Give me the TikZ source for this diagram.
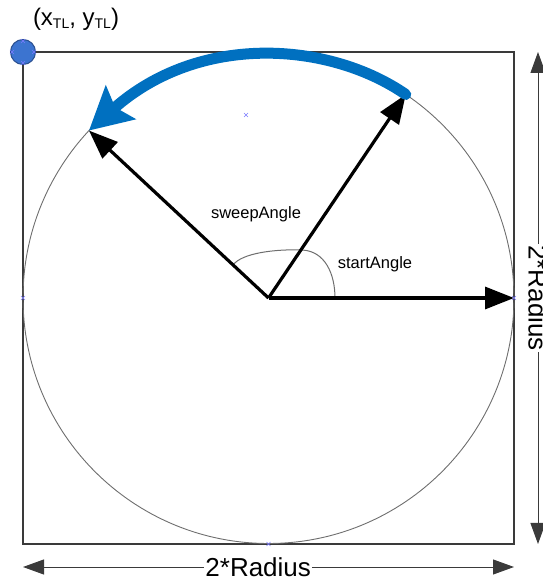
\documentclass[tikz,border=0pt]{standalone}
\usepackage{fontspec}
\setmainfont{Liberation Sans}
\usetikzlibrary{arrows.meta,positioning}
\definecolor{arcblue}{HTML}{0070C0}
\definecolor{dotblue}{HTML}{3C74D0}
\definecolor{dotedge}{HTML}{2A4F8F}
\definecolor{framegray}{HTML}{3A3A3A}
\definecolor{ringgray}{HTML}{6E6E6E}
\definecolor{markblue}{HTML}{7B7BFF}
\newcommand{\tlsub}[1]{\raisebox{-3pt}{\fontsize{14}{14}\selectfont #1}}
\tikzset{
  boxline/.style={draw=framegray,line width=1.2pt,inner sep=0pt,outer sep=0pt},
  ringline/.style={circle,draw=ringgray,line width=0.9pt,inner sep=0pt,outer sep=0pt},
  radiusarrow/.style={-{Triangle[length=29pt,width=22pt]},line width=3.2pt,draw=black},
  sweeparrow/.style={-{Stealth[length=42pt,width=44pt,inset=7pt]},line width=11pt,
                     line cap=round,draw=arcblue},
  dimline/.style={{Triangle[length=21pt,width=15pt]}-{Triangle[length=21pt,width=15pt]},
                  line width=0.9pt,draw=framegray},
  dimtext/.style={fill=white,inner sep=1pt,font=\fontsize{26}{30}\selectfont},
  anglearc/.style={draw=ringgray,line width=1pt},
  anglelabel/.style={font=\fontsize{16.5}{20}\selectfont},
  tldot/.style={circle,fill=dotblue,draw=dotedge,line width=1pt,minimum size=25pt,inner sep=0pt},
  cornertext/.style={font=\fontsize{24}{28}\selectfont,inner sep=0pt},
  selmark/.style={draw=markblue,line width=0.6pt}
}
\begin{document}
\begin{tikzpicture}[x=1pt,y=1pt]
  \useasboundingbox (0,0) rectangle (543,579);
  \coordinate (c) at (268.5,281);

  % bounding square and circle
  \node[boxline,minimum width=491pt,minimum height=492pt] (box) at (c) {};
  \node[ringline,minimum size=491pt] (ring) at (c) {};

  % start and sweep angle arcs
  \draw[anglearc] (233,314) .. controls (242,326) and (275,330) .. (302,329)
                  .. controls (325,328) and (335,305) .. (335,281);
  \node[anglelabel] (sweeplbl) at (256,365) {sweepAngle};
  \node[anglelabel] (startlbl) at (375,315) {startAngle};

  % radius vectors
  \draw[radiusarrow] (c) -- (ring.east);
  \draw[radiusarrow] (c) -- (ring.56);
  \draw[radiusarrow] (c) -- (ring.137.5);

  % swept arc
  \draw[sweeparrow] (ring.56) .. controls (330,537) and (200,547) .. (ring.137.5);

  % dimensions
  \coordinate[right=24pt of box.north east] (rt);
  \coordinate[right=24pt of box.south east] (rb);
  \coordinate[below=23pt of box.south west] (bl);
  \coordinate[below=23pt of box.south east] (br);
  \draw[dimline] (rt) -- node[dimtext,rotate=-90] {2*Radius} (rb);
  \draw[dimline] (bl) -- node[dimtext,pos=0.479] {2*Radius} (br);

  % top-left corner
  \node[tldot] (tl) at (box.north west) {};
  \node[cornertext] (tllbl) at (76,560) {(x\tlsub{TL}, y\tlsub{TL})};

  \foreach \mx/\my in {246/464,23/281,514/281,268.5/35,23/538,23/516,12/527,34/527}
    \draw[selmark] (\mx-2,\my-2) -- (\mx+2,\my+2) (\mx-2,\my+2) -- (\mx+2,\my-2);
\end{tikzpicture}
\end{document}
